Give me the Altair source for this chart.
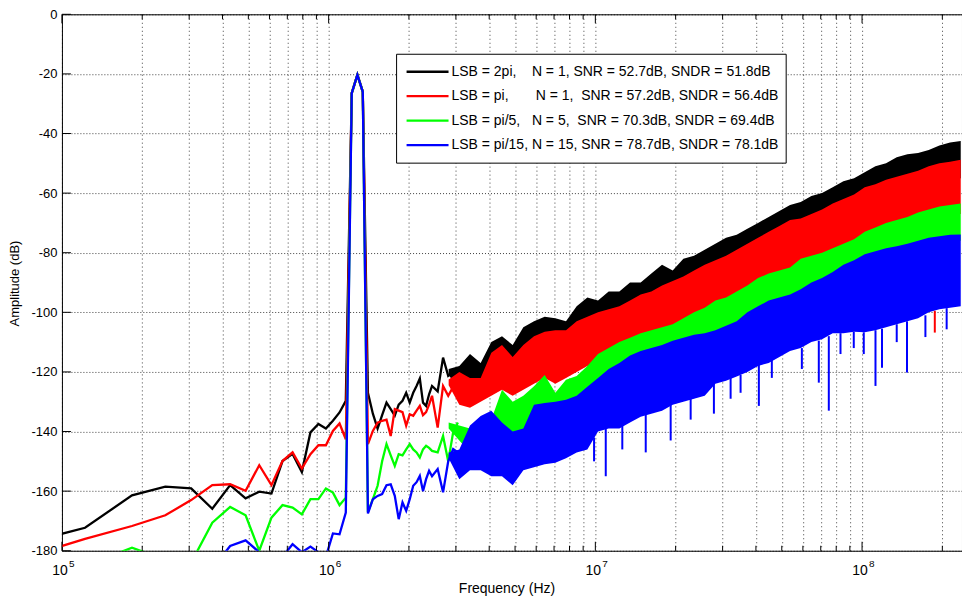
import altair as alt
import pandas as pd

# FFT bin spacing: 500 MS/s, 8192-point FFT
BIN_HZ = 500e6 / 8192

LABELS = [
    "LSB = 2pi,\u00a0\u00a0\u00a0\u00a0N = 1, SNR = 52.7dB, SNDR = 51.8dB",
    "LSB = pi,\u00a0\u00a0\u00a0\u00a0\u00a0\u00a0\u00a0N = 1,\u00a0\u00a0SNR = 57.2dB, SNDR = 56.4dB",
    "LSB = pi/5,\u00a0\u00a0\u00a0N = 5,\u00a0\u00a0SNR = 70.3dB, SNDR = 69.4dB",
    "LSB = pi/15, N = 15, SNR = 78.7dB, SNDR = 78.1dB",
]
COLORS = ["#000000", "#ff0000", "#00ff00", "#0000ff"]

# Low-frequency bins, drawn as individual spectrum points
LOW_BINS = list(range(1, 41)) + [42, 44, 46, 48, 50]

LOW_BLACK = [-179.2, -172.3, -161.4, -158.5, -159.1, -165.9, -158.0, -162.4, -160.2, -160.8,
             -149.9, -147.5, -153.6, -140.3, -137.5, -139.0, -136.4, -133.6, -129.7, -26.5,
             -20.3, -26.0, -127.0, -134.0, -139.0, -134.5, -130.3, -132.5, -134.7, -131.0,
             -129.7, -127.0, -130.3, -127.0, -124.7, -122.2, -130.3, -131.4, -127.5, -124.7,
             -126.5, -115.2, -121.3, -120.2, -119.0]
LOW_RED = [-184.4, -176.0, -171.7, -168.1, -163.0, -158.0, -157.7, -159.9, -151.3, -158.0,
           -149.9, -147.0, -152.4, -147.6, -144.6, -144.6, -139.8, -137.3, -142.6, -26.5,
           -20.3, -26.0, -144.2, -139.8, -137.0, -136.4, -136.0, -141.5, -132.5, -133.0,
           -133.5, -138.0, -134.2, -134.7, -133.0, -131.4, -134.5, -133.5, -131.0, -128.0,
           -138.7, -124.7, -128.0, -125.0, -122.5]
LOW_GREEN = [-190.0, -185.0, -179.0, -183.0, -184.0, -170.6, -165.3, -168.1, -180.0, -168.9,
             -164.7, -165.5, -167.8, -162.7, -162.7, -159.1, -160.5, -164.7, -162.2, -26.5,
             -20.3, -26.0, -167.0, -162.7, -158.2, -150.0, -144.2, -148.0, -151.5, -147.6,
             -148.0, -146.0, -144.2, -146.0, -147.0, -148.7, -146.0, -144.8, -145.5, -146.5,
             -147.0, -141.5, -150.0, -140.3, -137.0]
LOW_BLUE = [-195.0, -192.0, -190.0, -189.0, -188.0, -186.0, -178.4, -176.5, -180.5, -183.0,
            -182.0, -177.8, -180.5, -178.6, -180.5, -182.0, -174.2, -174.5, -167.2, -26.5,
            -20.3, -26.0, -167.5, -162.7, -161.6, -161.0, -158.0, -157.7, -161.6, -169.4,
            -163.8, -166.6, -162.7, -158.2, -157.0, -154.9, -160.0, -156.0, -153.2, -155.0,
            -152.6, -160.4, -150.0, -145.9, -147.0]

# Dense high-frequency region: noise band envelopes (top / bottom) on a log grid
BAND_LOG_F = [round(6.45 + 0.04 * i, 2) for i in range(49)]

BLACK_TOP = [-119, -118, -114, -117, -110, -108, -111, -105, -103, -101.5, -102, -103, -98, -95,
             -96, -93, -93, -90, -90, -87, -84, -86, -82, -81, -79, -77, -75, -74, -72, -70, -68,
             -66, -64, -63, -61, -60, -58, -56, -55, -53, -51, -50, -48, -47, -46.5, -45.5, -44,
             -43, -42.5]
BLACK_LO = [-121, -126, -128, -127, -121, -118, -121, -118, -115, -113, -113, -113, -110, -108,
            -107, -106, -105, -103, -101, -100, -98, -97, -95, -93, -91, -90, -88, -86, -84, -82,
            -80, -78, -76, -75, -74, -72, -70, -69, -67, -65, -64, -62, -61, -60, -59, -58, -57,
            -56, -55]
RED_TOP = [-122.5, -120, -122, -122, -113.6, -111, -115, -111, -108, -106.5, -106, -106, -103,
           -101.5, -100, -99, -98, -96, -94, -93, -91, -89.5, -88, -86, -84, -82.5, -81, -79,
           -77, -75, -73, -71, -69, -68.5, -67, -65.5, -63.5, -62, -60.5, -58, -57, -55.5, -54.5,
           -53.5, -52.5, -51, -50, -49.5, -48.8]
RED_LO = [-124.5, -131, -132, -130, -128, -126, -128, -126, -124, -122, -124, -122, -120, -118,
          -117, -115, -113, -111, -110, -109, -108, -107, -105, -103, -101, -99, -98, -96, -94,
          -92, -90, -89, -88, -85, -84, -83, -81, -80, -79, -76, -75, -73, -72, -71, -70, -69,
          -68, -67, -67]
GREEN_TOP = [-137, -138, -139, -139, -136, -126, -130, -128, -124.8, -121, -127, -122.6, -121.4,
             -118, -114, -112, -110, -108.5, -107, -106, -105, -104, -102, -100, -98.5, -96, -95,
             -93, -91, -88.5, -87, -86, -85, -82, -81, -80, -78.5, -77, -75.5, -73, -71.5, -70,
             -69, -68, -66.5, -65.5, -64.5, -64, -63.5]
GREEN_LO = [-139, -143, -147, -147, -145, -143, -149, -147, -143, -142, -143, -140, -138, -135,
            -132, -122, -120, -117, -116, -115, -114, -112, -111, -110, -110, -109, -107, -106,
            -103, -101, -99, -98, -97, -95, -93, -91, -89, -87, -85, -83, -82, -81, -80, -79, -78,
            -77, -77, -76, -76]
BLUE_TOP = [-147, -146, -138, -134.8, -133, -137, -140, -139, -131, -130.4, -130, -129.3, -128,
            -125, -122, -119, -117, -114.5, -113, -112, -111, -109.5, -108.5, -107.5, -107, -106,
            -104.5, -103, -100, -98, -96, -95, -94, -92.3, -90, -88.5, -86.5, -84, -82.5, -80.5,
            -79.5, -78.5, -77.8, -77, -76, -75, -74.5, -74, -73.9]
BLUE_LO = [-149, -156, -153, -153, -155, -155, -158, -153, -152, -151, -150.5, -149, -147, -146,
           -140, -139, -139, -137, -135, -134, -133, -131, -130, -129, -128, -124, -123, -121.5,
           -120, -118, -117, -115, -113, -112, -110, -109, -107, -107, -106.5, -106.7, -106,
           -105, -104, -103, -102, -100, -99, -98.5, -98]

# Deep downward noise spikes below the noise floor body
SPIKE_F = [9.89e6, 1.094e7, 1.262e7, 1.545e7, 1.916e7, 2.277e7, 2.783e7, 3.215e7, 3.504e7,
           4.103e7, 4.589e7, 5.947e7, 6.884e7, 7.505e7, 8.302e7, 9.310e7, 1.015e8, 1.123e8,
           1.188e8, 1.349e8, 1.474e8, 1.728e8, 1.874e8, 2.076e8]
SPIKE_BOTTOM = [-150, -155, -146, -147, -143, -136, -134, -129, -127, -131.4, -122, -119, -123.6,
                -133, -114, -112, -114, -124.7, -118.6, -110, -120.2, -108.3, -106.8, -105.7]
SPIKE_TOP = [-142, -139, -138, -134, -131, -129, -124, -122, -121, -117, -116, -112, -109.5,
             -108, -107, -106.5, -106.7, -106, -105.5, -104, -103, -101, -99.5, -98.6]
SPIKE_COLOR = ["#0000ff"] * 22 + ["#ff0000", "#0000ff"]

Y_TICKS = list(range(-180, 1, 20))
DECADES = [1e5, 1e6, 1e7, 1e8]
DECADE_EXP = ["5", "6", "7", "8"]
MINOR_TICKS = [m * d for d in DECADES for m in range(2, 10) if m * d < 2.37e8]
X_GRID = sorted(DECADES + MINOR_TICKS)

W, H = 901, 537
FONT = "Liberation Sans"

XSCALE = alt.Scale(type="log", domain=[1e5, 2.37e8], nice=False)
YSCALE = alt.Scale(domain=[-180, 0], nice=False, zero=False)
XAXIS = alt.Axis(values=X_GRID, labels=False, ticks=False, domain=False, grid=True,
                 gridDash=[1, 3], gridColor="#000000", gridOpacity=0.75,
                 title="Frequency (Hz)", titleX=445, titleY=42, titleBaseline="alphabetic",
                 titleFontSize=14, titleFontWeight="normal", titleFont=FONT,
                 titleColor="#000000")
YAXIS = alt.Axis(values=Y_TICKS, ticks=False, domain=False, grid=True,
                 gridDash=[1, 2], gridColor="#000000", gridOpacity=0.75,
                 labelExpr="'' + datum.value", labelFont=FONT, labelFontSize=13,
                 labelColor="#000000", labelPadding=5,
                 title="Amplitude (dB)", titleX=-47, titleY=269, titleAngle=270,
                 titleAlign="center", titleBaseline="middle", titleColor="#000000",
                 titleFontSize=13, titleFontWeight="normal", titleFont=FONT)


def xq(field):
    return alt.X(field, scale=XSCALE, axis=XAXIS)


def yq(field):
    return alt.Y(field, scale=YSCALE, axis=YAXIS)


low_series = [LOW_BLACK, LOW_RED, LOW_GREEN, LOW_BLUE]
band_series = [(BLACK_TOP, BLACK_LO), (RED_TOP, RED_LO), (GREEN_TOP, GREEN_LO),
               (BLUE_TOP, BLUE_LO)]

layers = []
for color, low, (top, lo) in zip(COLORS, low_series, band_series):
    band_df = pd.DataFrame({"freq": [10 ** v for v in BAND_LOG_F], "db": top, "lo": lo})
    layers.append(
        alt.Chart(band_df).mark_area(clip=True, color=color, opacity=1).encode(
            x=xq("freq:Q"), y=yq("db:Q"), y2="lo:Q"
        )
    )
    low_df = pd.DataFrame({"freq": [k * BIN_HZ for k in LOW_BINS], "db": low})
    layers.append(
        alt.Chart(low_df).mark_line(clip=True, strokeWidth=2.3, color=color).encode(
            x=xq("freq:Q"), y=yq("db:Q"), order="freq:Q"
        )
    )

spike_df = pd.DataFrame({"freq": SPIKE_F, "db": SPIKE_BOTTOM, "top": SPIKE_TOP,
                         "c": SPIKE_COLOR})
layers.append(
    alt.Chart(spike_df).mark_rule(clip=True, strokeWidth=2).encode(
        x=xq("freq:Q"), y=yq("db:Q"), y2="top:Q",
        stroke=alt.Stroke("c:N", scale=None),
    )
)

# Inward tick marks on the box edges
ytick_df = pd.DataFrame({"db": Y_TICKS})
layers.append(
    alt.Chart(ytick_df).mark_rule(color="#000000", strokeWidth=1).encode(
        y=yq("db:Q"), x=alt.value(0), x2=alt.value(9)
    )
)
major_df = pd.DataFrame({"freq": DECADES})
minor_df = pd.DataFrame({"freq": MINOR_TICKS})
for df, length in [(major_df, 9), (minor_df, 5)]:
    layers.append(
        alt.Chart(df).mark_rule(color="#000000", strokeWidth=1).encode(
            x=xq("freq:Q"), y=alt.value(H), y2=alt.value(H - length)
        )
    )
    layers.append(
        alt.Chart(df).mark_rule(color="#000000", strokeWidth=1).encode(
            x=xq("freq:Q"), y=alt.value(0), y2=alt.value(length)
        )
    )

# Decade labels written as 10 with a raised exponent
dec_df = pd.DataFrame({"freq": DECADES, "base": ["10"] * 4, "exp": DECADE_EXP})
layers.append(
    alt.Chart(dec_df).mark_text(font=FONT, fontSize=14, align="center", baseline="alphabetic",
                                dx=-2, color="#000000").encode(
        x=xq("freq:Q"), y=alt.value(H + 24), text="base:N"
    )
)
layers.append(
    alt.Chart(dec_df).mark_text(font=FONT, fontSize=10, align="left", baseline="alphabetic",
                                dx=7, color="#000000").encode(
        x=xq("freq:Q"), y=alt.value(H + 16), text="exp:N"
    )
)

# Legend box in the upper middle of the axes
LEG_LEFT, LEG_RIGHT, LEG_TOP, LEG_BOTTOM = 335, 725, 40, 149
LEG_ROWS = [57.5, 82, 106.5, 131]
box_df = pd.DataFrame({"k": [0]})
layers.append(
    alt.Chart(box_df).mark_rect(fill="#ffffff", stroke="#000000", strokeWidth=1).encode(
        x=alt.value(LEG_LEFT), x2=alt.value(LEG_RIGHT),
        y=alt.value(LEG_TOP), y2=alt.value(LEG_BOTTOM)
    )
)
for label, color, row in zip(LABELS, COLORS, LEG_ROWS):
    entry_df = pd.DataFrame({"label": [label]})
    layers.append(
        alt.Chart(entry_df).mark_rule(color=color, strokeWidth=2.3).encode(
            x=alt.value(LEG_LEFT + 10), x2=alt.value(LEG_LEFT + 52), y=alt.value(row)
        )
    )
    layers.append(
        alt.Chart(entry_df).mark_text(font=FONT, fontSize=14, align="left", baseline="middle",
                                      color="#000000").encode(
            x=alt.value(LEG_LEFT + 55), y=alt.value(row), text="label:N"
        )
    )

chart = alt.layer(*layers).properties(
    width=W, height=H,
    padding={"left": 62, "top": 14, "right": 0, "bottom": 50},
    autosize=alt.AutoSizeParams(type="none"),
    background="#ffffff",
).configure_view(stroke="#000000", strokeWidth=1)

chart.save("out.html", embed_options={"renderer": "svg", "actions": False})
